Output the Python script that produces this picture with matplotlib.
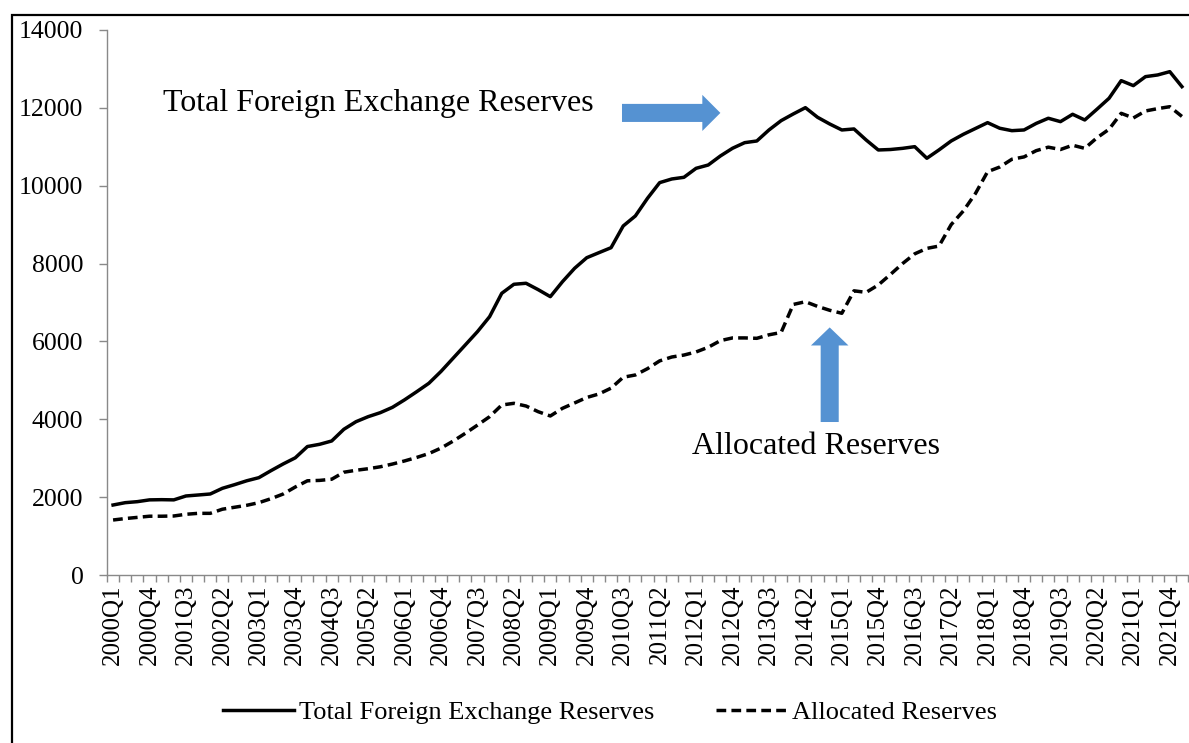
import matplotlib
matplotlib.use("Agg")
import matplotlib.pyplot as plt
from matplotlib.patches import FancyArrowPatch, Rectangle
from matplotlib.lines import Line2D
import numpy as np

# quarterly categories 2000Q1 .. 2022Q1
quarters = [f"{y}Q{q}" for y in range(2000, 2023) for q in range(1, 5)][:89]

total_reserves = [
    1798, 1858, 1884, 1930, 1935, 1930, 2030, 2055, 2081, 2227,
    2320, 2420, 2500, 2680, 2852, 3010, 3300, 3357, 3443, 3743,
    3938, 4067, 4170, 4307, 4500, 4709, 4925, 5230, 5570, 5910,
    6251, 6636, 7236, 7468, 7494, 7330, 7150, 7535, 7879, 8151,
    8280, 8408, 8966, 9223, 9677, 10079, 10173, 10216, 10447, 10532,
    10764, 10962, 11106, 11149, 11432, 11671, 11843, 12005, 11758, 11586,
    11432, 11458, 11175, 10918, 10930, 10960, 11003, 10705, 10920, 11149,
    11320, 11470, 11620, 11476, 11414, 11432, 11600, 11733, 11646, 11835,
    11689, 11964, 12246, 12699, 12571, 12802, 12845, 12930, 12545,
]

allocated_reserves = [
    1413, 1450, 1480, 1510, 1510, 1516, 1560, 1584, 1584, 1690,
    1740, 1790, 1858, 1960, 2080, 2260, 2420, 2430, 2460, 2640,
    2690, 2730, 2780, 2850, 2930, 3020, 3120, 3260, 3440, 3640,
    3850, 4067, 4367, 4410, 4341, 4195, 4085, 4282, 4420, 4560,
    4650, 4800, 5080, 5138, 5300, 5500, 5600, 5650, 5730, 5850,
    6020, 6090, 6090, 6080, 6170, 6230, 6950, 7020, 6900, 6800,
    6723, 7300, 7260, 7450, 7720, 8000, 8250, 8390, 8450, 9000,
    9350, 9800, 10360, 10480, 10680, 10740, 10900, 10990, 10930, 11040,
    10960, 11230, 11450, 11860, 11740, 11920, 11980, 12030, 11780,
]

plt.rcParams['font.family'] = ['Liberation Serif', 'DejaVu Serif']

fig = plt.figure(figsize=(11.89, 7.43), dpi=100)
ax = fig.add_axes([107 / 1189, 1 - 575 / 743, 1081 / 1189, 545 / 743])

x = np.arange(len(quarters))
ax.plot(x, total_reserves, color='black', lw=2.5, solid_joinstyle='round',
        label='Total Foreign Exchange Reserves')
ax.plot(x, allocated_reserves, color='black', lw=2.5, dashes=(2.8, 1.5),
        label='Allocated Reserves')

ax.set_xlim(-0.5, len(quarters) - 0.5)
ax.set_ylim(0, 14000)
ax.set_yticks(range(0, 14001, 2000))

grey = '#898989'
for side in ['top', 'right']:
    ax.spines[side].set_visible(False)
for side in ['left', 'bottom']:
    ax.spines[side].set_color(grey)
    ax.spines[side].set_linewidth(1.0)

ax.tick_params(axis='y', colors=grey, length=6, width=1.0, direction='out',
               labelsize=18.5, labelcolor='black', pad=11)

# labels on every third category, ticks on category boundaries
ax.set_xticks(x[::3])
ax.set_xticklabels(quarters[::3], rotation=90)
ax.set_xticks(np.arange(-0.5, len(quarters)), minor=True)
ax.tick_params(axis='x', which='major', length=0, labelsize=18,
               labelcolor='black', pad=7)
ax.tick_params(axis='x', which='minor', colors=grey, length=5, width=1.0,
               direction='out')

# text annotations with block arrows
ax.text(4.1, 12100, 'Total Foreign Exchange Reserves', fontsize=23,
        ha='left', va='center')
ax.text(47.7, 3300, 'Allocated Reserves', fontsize=23, ha='left', va='center')

blue = '#5592D2'
arr_right = FancyArrowPatch((41.9, 11870), (50.0, 11870),
                            arrowstyle='simple,head_length=13,head_width=26,tail_width=13',
                            mutation_scale=1, color=blue, shrinkA=0, shrinkB=0, lw=0)
ax.add_patch(arr_right)
arr_up = FancyArrowPatch((59.0, 3930), (59.0, 6360),
                         arrowstyle='simple,head_length=13,head_width=27,tail_width=13',
                         mutation_scale=1, color=blue, shrinkA=0, shrinkB=0, lw=0)
ax.add_patch(arr_up)

# legend below the axis
handles = [Line2D([], [], color='black', lw=2.5),
           Line2D([], [], color='black', lw=2.5, dashes=(2.8, 1.5))]
fig.legend(handles, ['Total Foreign Exchange Reserves', 'Allocated Reserves'],
           loc='center', bbox_to_anchor=(610 / 1189, 1 - 712 / 743), ncol=2,
           frameon=False, fontsize=19, handlelength=2.7, handletextpad=0.2,
           columnspacing=2.3)

# outer chart border (only left and top edges visible)
fig.add_artist(Rectangle((12 / 1189, -0.2), 1.2, 1.2 - 15 / 743,
                         transform=fig.transFigure, fill=False,
                         edgecolor='black', lw=1.6))

fig.savefig('out.png', dpi=100)
